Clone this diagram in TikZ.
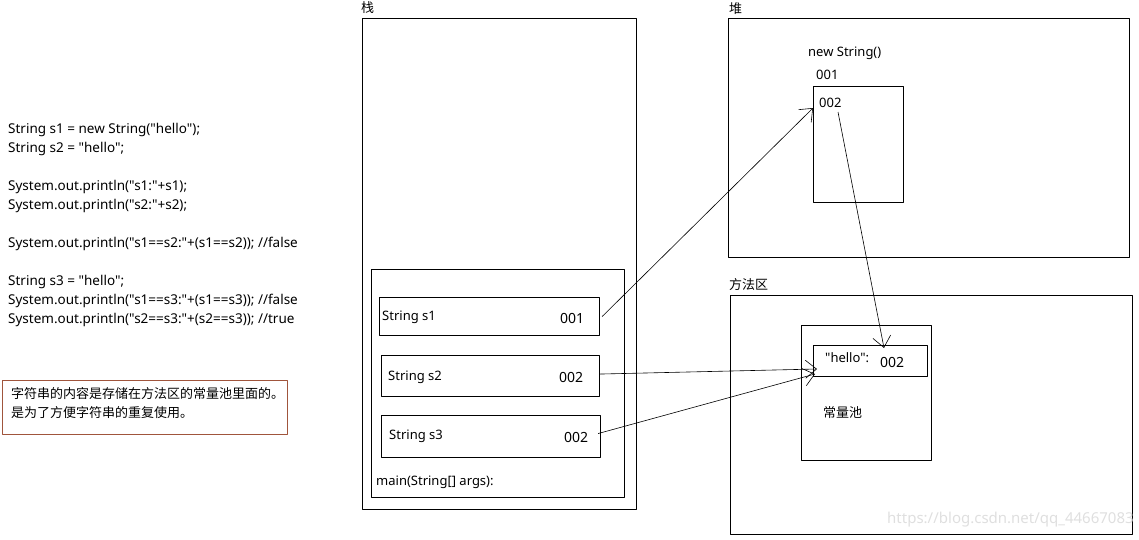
\documentclass[tikz,border=0pt]{standalone}
\usepackage{fontspec}
\newfontfamily\yahei{Noto Sans CJK SC}
\newfontfamily\segoe{Noto Sans}
\usetikzlibrary{arrows.meta,positioning}
\definecolor{notebrown}{RGB}{160,85,60}
\tikzset{
  box/.style={draw, line width=1.1pt, rectangle, anchor=north west, inner sep=0pt},
  txt/.style={anchor=west, inner sep=0pt, font=\segoe\fontsize{13}{15}\selectfont},
  code/.style={anchor=west, inner sep=0pt, font=\segoe\fontsize{13.5}{15}\selectfont},
  cjk/.style={anchor=west, inner sep=0pt, font=\yahei\fontsize{13}{15}\selectfont},
  num/.style={anchor=west, inner sep=0pt, font=\segoe\fontsize{14}{15}\selectfont},
  ref/.style={-{Straight Barb[length=11pt,width=18pt]}, line width=.6pt},
}
\begin{document}
\begin{tikzpicture}[x=1pt, y=-1pt, line join=round]
	\useasboundingbox (0,0) rectangle (1139,540);
	% code on the left
	\foreach \y/\t [count=\i] in {130/{String s1 = new String("hello");},
		149/{String s2 = "hello";},
		187/{System.out.println("s1:"+s1);},
		206/{System.out.println("s2:"+s2);},
		244/{System.out.println("s1==s2:"+(s1==s2)); //false},
		282/{String s3 = "hello";},
		301/{System.out.println("s1==s3:"+(s1==s3)); //false},
		320/{System.out.println("s2==s3:"+(s2==s3)); //true}}
		\node[code] (code\i) at (8,\y) {\t};
	\node[box, draw=notebrown, line width=.9pt, minimum width=285pt, minimum height=54pt] (note) at (2,380) {};
	\node[cjk, anchor=north west, align=left, font=\yahei\fontsize{13}{19}\selectfont] (notetext) at (11,387) {字符串的内容是存储在方法区的常量池里面的。\\是为了方便字符串的重复使用。};
	% stack
	\node[box, minimum width=274pt, minimum height=491pt] (stack) at (362,18) {};
	\node[cjk] (stacklabel) at (361,8) {栈};
	\node[box, minimum width=253pt, minimum height=228pt] (main) at (371,269) {};
	\node[txt] (mainlabel) at (376,482) {main(String[] args):};
	\node[box, minimum width=220pt, minimum height=38pt] (s1) at (379,297) {};
	\node[box, minimum width=218pt, minimum height=41pt] (s2) at (381,355) {};
	\node[box, minimum width=219pt, minimum height=42pt] (s3) at (381,415) {};
	\node[txt] (s1name) at (382,317) {String s1};
	\node[txt] (s2name) at (388,377) {String s2};
	\node[txt] (s3name) at (389,436) {String s3};
	\node[num] (s1val) at (560,318) {001};
	\node[num] (s2val) at (559,377) {002};
	\node[num] (s3val) at (564,437) {002};
	% heap
	\node[box, minimum width=401pt, minimum height=239pt] (heap) at (728,18) {};
	\node[cjk] (heaplabel) at (729,9) {堆};
	\node[txt] (newlabel) at (808,53) {new String()};
	\node[txt] (objaddr) at (816,75) {001};
	\node[box, minimum width=90pt, minimum height=116pt] (obj) at (813,86) {};
	\node[txt] (objval) at (819,103) {002};
	% method area
	\node[box, minimum width=402pt, minimum height=239pt] (method) at (730,295) {};
	\node[cjk] (methodlabel) at (729,285) {方法区};
	\node[box, minimum width=130pt, minimum height=135pt] (pool) at (801,325) {};
	\node[cjk] (poollabel) at (823,413) {常量池};
	\node[box, minimum width=114pt, minimum height=31pt] (hello) at (813,345) {};
	\node[txt] (hellotext) at (825,358) {"hello":};
	\node[num] (helloaddr) at (880,362) {002};
	\node[anchor=west, inner sep=0pt, text=gray!25, font=\segoe\fontsize{15}{17}\selectfont] (mark) at (887,520) {https://blog.csdn.net/qq\_44667083};
	% references
	\coordinate (objin) at (813,108);
	\coordinate (objout) at (838,112);
	\coordinate (helloin) at (884,348);
	\coordinate (poolin2) at (817,369);
	\coordinate (poolin3) at (815,374);
	\draw[ref] ([xshift=2pt]s1.east) -- (objin);
	\draw[ref] ([yshift=2pt]s2.east) -- (poolin2);
	\draw[ref] ([xshift=-3pt,yshift=3pt]s3.east) -- (poolin3);
	\draw[ref] (objout) -- (helloin);
\end{tikzpicture}
\end{document}
